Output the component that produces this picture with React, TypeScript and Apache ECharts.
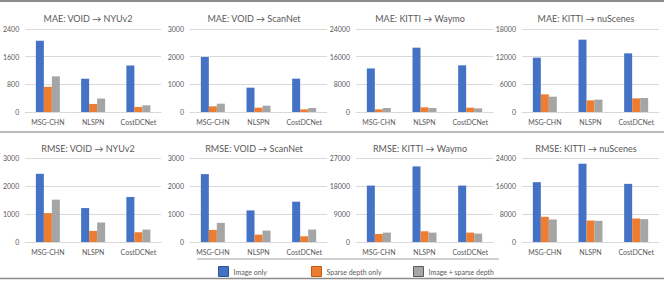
import React, { useEffect, useRef } from "react";
import * as echarts from "echarts";

const categories = ["MSG-CHN", "NLSPN", "CostDCNet"];
const seriesNames = ["Image only", "Sparse depth only", "Image + sparse depth"];
const colors = ["#4472C4", "#ED7D31", "#A5A5A5"];
const borderColors = ["#2F5597", "#C55A11", "#595959"];

const titles = [
  "MAE: VOID → NYUv2",
  "MAE: VOID → ScanNet",
  "MAE: KITTI → Waymo",
  "MAE: KITTI → nuScenes",
  "RMSE: VOID → NYUv2",
  "RMSE: VOID → ScanNet",
  "RMSE: KITTI → Waymo",
  "RMSE: KITTI → nuScenes",
];
const axisMax = [2400, 3000, 24000, 18000, 3000, 3000, 27000, 24000];

const imageOnly = [
  [2060, 962, 1341],
  [1988, 880, 1205],
  [12600, 18600, 13500],
  [11780, 15690, 12720],
  [2436, 1212, 1608],
  [2424, 1128, 1440],
  [18140, 24300, 18140],
  [17090, 22370, 16610],
];
const sparseOnly = [
  [729, 233, 146],
  [205, 157, 96],
  [770, 1350, 1250],
  [3830, 2530, 2960],
  [1032, 396, 348],
  [432, 264, 204],
  [2590, 3460, 3020],
  [7200, 6140, 6720],
];
const imageSparse = [
  [1030, 389, 194],
  [301, 229, 145],
  [1160, 1160, 1060],
  [3320, 2680, 3040],
  [1512, 696, 444],
  [684, 408, 444],
  [3020, 3020, 2700],
  [6430, 6050, 6530],
];

const FONT = "Lato, 'Open Sans', sans-serif";
const TEXT = "#595959";

export default function App() {
  const ref = useRef<HTMLDivElement>(null);
  useEffect(() => {
    if (!ref.current) return;
    const chart = echarts.init(ref.current, undefined, { renderer: "svg" });
    const grids: any[] = [];
    const xAxes: any[] = [];
    const yAxes: any[] = [];
    const series: any[] = [];
    const titleArr: any[] = [];
    const dataSets = [imageOnly, sparseOnly, imageSparse];
    for (let i = 0; i < 8; i++) {
      const c = i % 4;
      const r = Math.floor(i / 4);
      grids.push({
        left: 166 * c + 24,
        width: 137,
        top: r === 0 ? 29 : 158,
        height: r === 0 ? 83 : 84,
        containLabel: false,
      });
      titleArr.push({
        text: titles[i],
        left: 83 + 166 * c,
        textAlign: "center",
        top: r === 0 ? 9 : 139,
        textStyle: { fontSize: 9, fontWeight: "normal", color: TEXT, fontFamily: FONT },
      });
      xAxes.push({
        type: "category",
        gridIndex: i,
        data: categories,
        axisTick: { show: false },
        axisLine: { lineStyle: { color: "#D9D9D9" } },
        axisLabel: { interval: 0, fontSize: 7, color: TEXT, fontFamily: FONT, margin: 6 },
      });
      yAxes.push({
        type: "value",
        gridIndex: i,
        min: 0,
        max: axisMax[i],
        interval: axisMax[i] / 3,
        axisLine: { show: false },
        axisTick: { show: false },
        splitLine: { lineStyle: { color: "#D9D9D9" } },
        axisLabel: {
          fontSize: 7,
          color: TEXT,
          fontFamily: FONT,
          margin: 6,
          formatter: (v: number) => String(v),
        },
      });
      for (let s = 0; s < 3; s++) {
        series.push({
          type: "bar",
          name: seriesNames[s],
          xAxisIndex: i,
          yAxisIndex: i,
          data: dataSets[s][i],
          barWidth: 8,
          barGap: "0%",
          itemStyle: { color: colors[s] },
        });
      }
    }
    const legendPos = [218, 311, 413];
    const legends = seriesNames.map((n, s) => ({
      data: [n],
      left: legendPos[s],
      top: 266,
      padding: 0,
      itemWidth: 10,
      itemHeight: 10,
      itemGap: 5,
      icon: "rect",
      itemStyle: { borderColor: borderColors[s], borderWidth: 1 },
      textStyle: { fontSize: 7, color: TEXT, fontFamily: FONT },
      selectedMode: false,
    }));
    chart.setOption({
      animation: false,
      backgroundColor: "#FFFFFF",
      title: titleArr,
      grid: grids,
      xAxis: xAxes,
      yAxis: yAxes,
      series,
      legend: legends,
      graphic: [
        { type: "line", shape: { x1: 0, y1: 1, x2: 664, y2: 1 }, style: { stroke: "#8C8C8C", lineWidth: 2 } },
        { type: "line", shape: { x1: 0, y1: 132, x2: 664, y2: 132 }, style: { stroke: "#A6A6A6", lineWidth: 1.5 } },
        { type: "line", shape: { x1: 197, y1: 259, x2: 499, y2: 259 }, style: { stroke: "#BFBFBF", lineWidth: 1.5 } },
        { type: "line", shape: { x1: 0, y1: 278.5, x2: 664, y2: 278.5 }, style: { stroke: "#8C8C8C", lineWidth: 1.5 } },
      ],
    });
    return () => chart.dispose();
  }, []);
  return (
    <div
      ref={ref}
      style={{ position: "fixed", left: 0, top: 0, width: 664, height: 281, background: "#fff" }}
    />
  );
}
